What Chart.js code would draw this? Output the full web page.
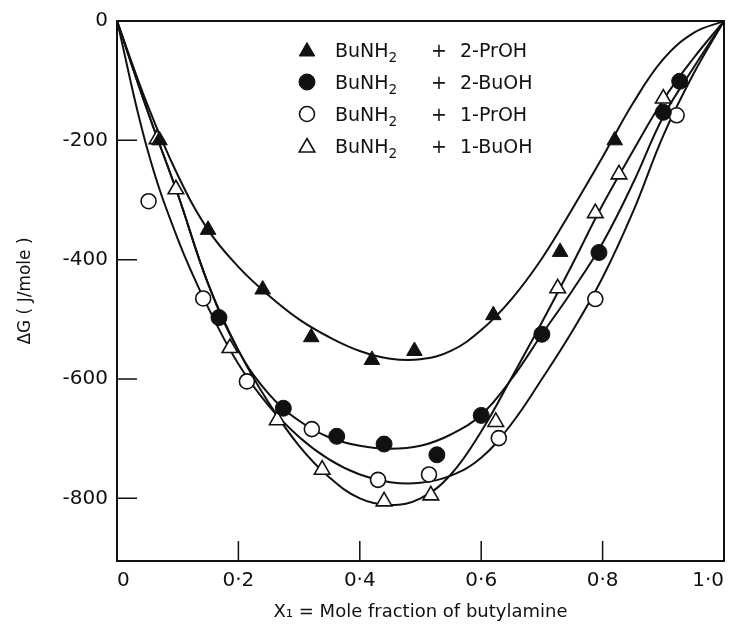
<!DOCTYPE html>
<html>
<head>
<meta charset="utf-8">
<script src="https://cdn.jsdelivr.net/npm/chart.js@4.4.0/dist/chart.umd.min.js"></script>
<style>
  html, body { margin: 0; padding: 0; background: #fff; }
  #wrap { position: relative; width: 735px; height: 627px; }
  #legend { position: absolute; left: 296px; top: 34px; font-family: 'DejaVu Sans', sans-serif; font-size: 19px; color: #111; }
  .row { position: relative; height: 32px; width: 270px; }
  .row > * { position: absolute; top: 0; line-height: 32px; }
  .mk { left: 0; top: 5px; }
  .nm { left: 39px; }
  .pl { left: 135px; }
  .mx { left: 164px; }
  sub { font-size: 72%; vertical-align: -0.35em; line-height: 0; }
</style>
</head>
<body>
<div id="wrap">
  <canvas id="chart" width="735" height="627"></canvas>
  <div id="legend"></div>
</div>
<script>
// axis ticks
const xTickValues = [0, 0.2, 0.4, 0.6, 0.8, 1.0];
const yTickValues = [0, -200, -400, -600, -800];

// measured points (x = mole fraction of butylamine, y = dG in J/mole)
const x2PrOH = [0.07, 0.15, 0.24, 0.32, 0.42, 0.49, 0.62, 0.73, 0.82];
const y2PrOH = [-200, -350, -450, -530, -568, -553, -493, -387, -200];

const x2BuOH = [0.168, 0.274, 0.362, 0.44, 0.527, 0.6, 0.7, 0.794, 0.9, 0.927];
const y2BuOH = [-497, -649, -696, -709, -727, -661, -525, -388, -153, -101];

const x1PrOH = [0.052, 0.142, 0.214, 0.321, 0.43, 0.514, 0.629, 0.788, 0.922];
const y1PrOH = [-302, -465, -604, -684, -769, -760, -699, -466, -158];

const x1BuOH = [0.066, 0.097, 0.186, 0.264, 0.338, 0.44, 0.517, 0.624, 0.726, 0.788, 0.827, 0.9];
const y1BuOH = [-198, -282, -548, -669, -752, -805, -795, -672, -448, -322, -257, -130];

// smooth fitted curves
const curveX   = [0, 0.05, 0.1, 0.15, 0.2, 0.25, 0.3, 0.35, 0.4, 0.45, 0.5, 0.55, 0.6, 0.65, 0.7, 0.75, 0.8, 0.85, 0.9, 0.95, 1.0];
const fit2PrOH = [0, -140, -258, -350, -412, -460, -500, -530, -553, -566, -567, -553, -518, -466, -398, -315, -228, -138, -64, -20, 0];
const fit2BuOH = [0, -150, -290, -440, -552, -625, -670, -698, -712, -717, -712, -693, -660, -600, -525, -452, -372, -272, -160, -78, 0];
const fit1PrOH = [0, -215, -365, -480, -575, -645, -697, -735, -760, -773, -774, -762, -732, -675, -600, -520, -430, -320, -192, -88, 0];
const fit1BuOH = [0, -150, -290, -440, -552, -640, -712, -765, -800, -811, -800, -760, -688, -598, -505, -408, -308, -218, -132, -62, 0];

const amine = 'BuNH₂';
const alcohols = ['2-PrOH', '2-BuOH', '1-PrOH', '1-BuOH'];

const ink = '#111';

function pairs(xs, ys) {
    return xs.map((x, i) => ({ x: x, y: ys[i] }));
}

const markerSets = [
    { name: alcohols[0], xs: x2PrOH, ys: y2PrOH, style: 'triangle', filled: true,  r: 9 },
    { name: alcohols[1], xs: x2BuOH, ys: y2BuOH, style: 'circle',   filled: true,  r: 8 },
    { name: alcohols[2], xs: x1PrOH, ys: y1PrOH, style: 'circle',   filled: false, r: 7.5 },
    { name: alcohols[3], xs: x1BuOH, ys: y1BuOH, style: 'triangle', filled: false, r: 9 }
];
const curves = [fit2PrOH, fit2BuOH, fit1PrOH, fit1BuOH];

const datasets = [];
markerSets.forEach(function(m) {
    datasets.push({
        label: amine + ' + ' + m.name,
        data: pairs(m.xs, m.ys),
        pointStyle: m.style,
        pointRadius: m.r,
        pointBackgroundColor: m.filled ? ink : '#fff',
        pointBorderColor: ink,
        pointBorderWidth: m.filled ? 1 : 1.6,
        showLine: false,
        order: 0
    });
});
curves.forEach(function(c) {
    datasets.push({
        data: pairs(curveX, c),
        showLine: true,
        borderColor: ink,
        borderWidth: 2,
        pointRadius: 0,
        tension: 0.4,
        order: 1
    });
});

// frame and inward tick marks
const framePlugin = {
    id: 'frame',
    beforeDatasetsDraw(chart) {
        const { ctx, chartArea: a, scales } = chart;
        ctx.save();
        ctx.strokeStyle = ink;
        ctx.lineWidth = 2;
        ctx.strokeRect(a.left, a.top, a.right - a.left, a.bottom - a.top);
        ctx.lineWidth = 1.5;
        ctx.beginPath();
        xTickValues.slice(1, -1).forEach(function(v) {
            const px = scales.x.getPixelForValue(v);
            ctx.moveTo(px, a.bottom);
            ctx.lineTo(px, a.bottom - 20);
        });
        yTickValues.slice(1).forEach(function(v) {
            const py = scales.y.getPixelForValue(v);
            ctx.moveTo(a.left, py);
            ctx.lineTo(a.left + 20, py);
        });
        ctx.stroke();
        ctx.restore();
    }
};

Chart.defaults.font.family = "'DejaVu Sans', sans-serif";
Chart.defaults.color = ink;

new Chart(document.getElementById('chart'), {
    type: 'scatter',
    data: { datasets: datasets },
    options: {
        responsive: false,
        animation: false,
        layout: { padding: { top: 14, right: 11, left: 0, bottom: 0 } },
        plugins: { legend: { display: false }, tooltip: { enabled: false } },
        scales: {
            x: {
                type: 'linear', min: 0, max: 1,
                grid: { display: false, drawTicks: false },
                border: { display: false },
                afterBuildTicks: function(s) { s.ticks = xTickValues.map(v => ({ value: v })); },
                afterFit: function(s) { s.height = 66; },
                ticks: {
                    font: { size: 20 }, padding: 8, align: 'inner', maxRotation: 0, autoSkip: false,
                    callback: v => v === 0 ? '0' : v.toFixed(1).replace('.', '·')
                },
                title: { display: true, text: 'X₁ = Mole fraction of butylamine', font: { size: 18 }, padding: { top: 0, bottom: 4 } }
            },
            y: {
                type: 'linear', min: -905, max: 0,
                grid: { display: false, drawTicks: false },
                border: { display: false },
                afterBuildTicks: function(s) { s.ticks = yTickValues.map(v => ({ value: v })); },
                afterFit: function(s) { s.width = 117; },
                ticks: { font: { size: 20 }, padding: 9, callback: v => String(v) },
                title: { display: true, text: 'ΔG ( J/mole )', font: { size: 17 }, padding: { top: 15, bottom: 0 } }
            }
        }
    },
    plugins: [framePlugin]
});

// legend inside the plot, built from the marker sets
function drawMarker(cv, m) {
    const c = cv.getContext('2d');
    const cx = cv.width / 2, cy = cv.height / 2, r = m.r;
    c.beginPath();
    if (m.style === 'circle') {
        c.arc(cx, cy, r, 0, Math.PI * 2);
    } else {
        for (let k = 0; k < 3; k++) {
            const ang = k * 2 * Math.PI / 3;
            const px = cx + Math.sin(ang) * r, py = cy + 1.5 - Math.cos(ang) * r;
            if (k === 0) c.moveTo(px, py); else c.lineTo(px, py);
        }
        c.closePath();
    }
    c.fillStyle = m.filled ? ink : '#fff';
    c.fill();
    c.strokeStyle = ink;
    c.lineWidth = m.filled ? 1 : 1.6;
    c.stroke();
}

const legend = document.getElementById('legend');
markerSets.forEach(function(m) {
    const row = document.createElement('div');
    row.className = 'row';
    const cv = document.createElement('canvas');
    cv.width = 22; cv.height = 22; cv.className = 'mk';
    drawMarker(cv, m);
    row.appendChild(cv);
    const nm = document.createElement('span');
    nm.className = 'nm';
    nm.innerHTML = 'BuNH<sub>2</sub>';
    row.appendChild(nm);
    const pl = document.createElement('span');
    pl.className = 'pl';
    pl.textContent = '+';
    row.appendChild(pl);
    const mx = document.createElement('span');
    mx.className = 'mx';
    mx.textContent = m.name;
    row.appendChild(mx);
    legend.appendChild(row);
});
</script>
</body>
</html>
